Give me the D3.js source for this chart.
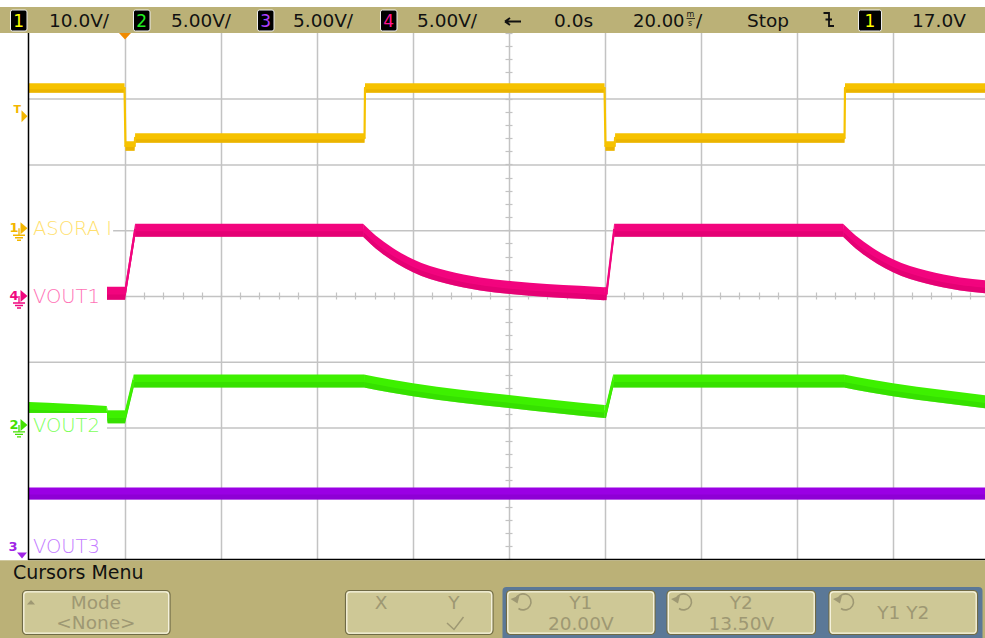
<!DOCTYPE html>
<html><head><meta charset="utf-8">
<script src="https://cdn.jsdelivr.net/npm/d3@7"></script>
<style>
html,body{margin:0;padding:0;background:#fff;overflow:hidden}
svg{display:block;font-family:"DejaVu Sans","Liberation Sans",Arial,sans-serif}
</style></head><body>
<svg id="c" width="985" height="638"></svg>
<script>
// ---------------- data ----------------
const channelIds    = [1, 2, 3, 4];
const channelNames  = ["ASORA I", "VOUT2", "VOUT3", "VOUT1"];
const voltsPerDiv   = [10.0, 5.00, 5.00, 5.00];
const groundDiv     = [1.03, -1.96, -4.4, 0.0];
const scaleLabels   = ["10.0V/", "5.00V/", "5.00V/", "5.00V/"];
const timePerDivMs  = 20;
const delayLabel    = "0.0s";
const runState      = "Stop";
const triggerSource = 1;
const triggerLevelV = 17.0;
const triggerTimeMs = 20;
const cursorLabels  = ["Y1", "Y2", "Y1 Y2"];
const cursorValues  = ["20.00V", "13.50V", ""];

// Channel 1 (ASORA I)
const ch1TimeMs = [0, 19.9, 20.1, 22.0, 22.1, 69.9, 70.0, 119.9, 120.1, 122.0, 122.1, 169.9, 170.0, 200];
const ch1Volts  = [21.3, 21.3, 12.5, 12.5, 13.7, 13.7, 21.3, 21.3, 12.5, 12.5, 13.7, 13.7, 21.3, 21.3];
// Channel 2 (VOUT2)
const ch2TimeMs = [0, 8, 16.2, 16.4, 20.0, 21.8, 69.8, 75.0, 80.0, 90.0, 100.0, 110.0, 119.9, 120.2, 121.7, 169.8, 175.0, 180.0, 190.0, 200.0];
const ch2Volts  = [1.25, 1.12, 0.95, 0.62, 0.62, 3.34, 3.34, 2.98, 2.68, 2.18, 1.78, 1.38, 1.02, 1.02, 3.34, 3.34, 2.98, 2.68, 2.18, 1.72];
// Channel 3 (VOUT3)
const ch3TimeMs = [0, 200];
const ch3Volts  = [7.0, 7.0];
// Channel 4 (VOUT1)
const ch4TimeMs = [0, 16.2, 20.0, 22.1, 69.6, 73.1, 76.7, 80.0, 87.1, 94.0, 100.8, 107.9, 114.8, 119.8, 120.3, 121.9, 169.6, 173.1, 176.7, 180.0, 187.1, 194.0, 200];
const ch4Volts  = [0.2, 0.2, 0.2, 5.0, 5.0, 3.85, 2.95, 2.3, 1.42, 0.92, 0.62, 0.42, 0.28, 0.18, 0.18, 5.0, 5.0, 3.85, 2.95, 2.3, 1.42, 0.92, 0.68];

// ---------------- styles ----------------
const W = 985, H = 638;
const barColor = "#bbb177";
const traceColor = {1:"#f6c200", 2:"#3ef000", 3:"#9a00e4", 4:"#f2047e"};
const traceDark  = {1:"#e2aa00", 2:"#2fd400", 3:"#8500c8", 4:"#d9006c"};
const labelColor = {1:"#ffdf6e", 2:"#7dff5a", 3:"#c47cff", 4:"#ff72b6"};
const markColor  = {1:"#f3b600", 2:"#44e000", 3:"#a024e6", 4:"#f0087f"};
const hdrDigit   = {1:"#ffff00", 2:"#22ee22", 3:"#b040ff", 4:"#ff1493"};
const bandPx     = {1:9.5, 2:13, 3:12, 4:13};

const plot = {left:29, top:32.8, right:989, bottom:559.2};
const x = d3.scaleLinear().domain([0, 10*timePerDivMs]).range([plot.left, plot.right]);
const yDiv = d3.scaleLinear().domain([-4, 4]).range([plot.bottom, plot.top]);
const yOf = (id, v) => yDiv(groundDiv[id-1] + v / voltsPerDiv[id-1]);

const svg = d3.select("#c");
svg.append("rect").attr("width", W).attr("height", H).attr("fill", "#fff");

// ---------------- grid ----------------
const gridCol = "#c3c3c3";
const gx = svg.append("g").attr("transform", `translate(0,${plot.top})`)
  .call(d3.axisTop(x).tickValues(d3.range(timePerDivMs, 10*timePerDivMs, timePerDivMs))
        .tickSize(-(plot.bottom - plot.top)).tickFormat(""));
gx.select(".domain").remove();
gx.selectAll("line").attr("stroke", gridCol).attr("stroke-width", 1.5);

const gy = svg.append("g").attr("transform", `translate(${plot.left},0)`)
  .call(d3.axisLeft(yDiv).tickValues(d3.range(-3, 4, 1))
        .tickSize(-(plot.right - plot.left)).tickFormat(""));
gy.select(".domain").remove();
gy.selectAll("line").attr("stroke", gridCol).attr("stroke-width", 1.5);

// minor ticks on centre lines
const yc = yDiv(0), xc = x(5*timePerDivMs);
const minor = svg.append("g").attr("stroke", gridCol).attr("stroke-width", 1.2);
minor.selectAll("line.mx").data(d3.range(0, 10*timePerDivMs + 0.01, timePerDivMs/5)).join("line")
  .attr("x1", d => Math.round(x(d)) + 0.5).attr("x2", d => Math.round(x(d)) + 0.5)
  .attr("y1", yc - 3.5).attr("y2", yc + 3.5);
minor.selectAll("line.my").data(d3.range(-4, 4.01, 0.2)).join("line")
  .attr("y1", d => Math.round(yDiv(d)) + 0.5).attr("y2", d => Math.round(yDiv(d)) + 0.5)
  .attr("x1", xc - 3.5).attr("x2", xc + 3.5);

// ---------------- traces ----------------
svg.append("clipPath").attr("id", "pc").append("rect")
  .attr("x", plot.left).attr("y", plot.top).attr("width", W - plot.left).attr("height", plot.bottom - plot.top);
const traces = svg.append("g").attr("clip-path", "url(#pc)");
const series = [
  {id:1, t:ch1TimeMs, v:ch1Volts},
  {id:2, t:ch2TimeMs, v:ch2Volts},
  {id:3, t:ch3TimeMs, v:ch3Volts},
  {id:4, t:ch4TimeMs, v:ch4Volts}
];
// split a trace at its corners (flat <-> slope, steps) so each piece is smoothed on its own
function pieces(pts) {
  const out = []; let cur = [pts[0]];
  for (let i = 1; i < pts.length; i++) {
    cur.push(pts[i]);
    if (i < pts.length - 1) {
      const s0 = (pts[i].v - pts[i-1].v) / (pts[i].t - pts[i-1].t);
      const s1 = (pts[i+1].v - pts[i].v) / (pts[i+1].t - pts[i].t);
      const flat0 = Math.abs(s0) < 1e-3, flat1 = Math.abs(s1) < 1e-3;
      const corner = flat0 !== flat1 || Math.sign(s0) !== Math.sign(s1) ||
                     Math.abs(s0) > 4 * Math.abs(s1) + 0.2 || Math.abs(s1) > 4 * Math.abs(s0) + 0.2;
      if (corner) { out.push(cur); cur = [pts[i]]; }
    }
  }
  out.push(cur);
  return out;
}
series.forEach(s => {
  const pts = s.t.map((t, k) => ({t, v: s.v[k]}));
  const h = bandPx[s.id];
  const cv = d3.curveMonotoneX;
  const full = d3.area().curve(cv).x(d => x(d.t)).y0(d => yOf(s.id, d.v) - h/2).y1(d => yOf(s.id, d.v) + h/2);
  const low  = d3.area().curve(cv).x(d => x(d.t)).y0(d => yOf(s.id, d.v) + 0.5).y1(d => yOf(s.id, d.v) + h/2);
  const line = d3.line().curve(cv).x(d => x(d.t)).y(d => yOf(s.id, d.v));
  const segs = pieces(pts);
  segs.forEach(p => traces.append("path").attr("d", full(p)).attr("fill", traceColor[s.id]));
  segs.forEach(p => traces.append("path").attr("d", low(p)).attr("fill", traceDark[s.id]).attr("opacity", 0.55));
  segs.forEach(p => traces.append("path").attr("d", line(p)).attr("fill", "none")
    .attr("stroke", traceColor[s.id]).attr("stroke-width", 2.2).attr("stroke-linecap", "round"));
});

// ---------------- channel labels (opaque boxes) ----------------
const labels = svg.append("g");
channelIds.forEach(id => {
  let g = yOf(id, 0);
  const cy = Math.min(g, plot.bottom - 13);
  const grp = labels.append("g");
  const box = grp.append("rect").attr("fill", "#fff");
  const txt = grp.append("text").attr("x", 33).attr("y", cy + 7)
    .attr("font-size", 19.5).attr("font-weight", 200).attr("fill", labelColor[id])
    .text(channelNames[id-1]);
  const bb = txt.node().getBBox();
  const end = Math.max(107, bb.x + bb.width + 1);
  box.attr("x", plot.left).attr("y", cy - 12).attr("width", end - plot.left).attr("height", 24);
});

// borders
svg.append("line").attr("x1", plot.left - 0.5).attr("x2", plot.left - 0.5).attr("y1", 33).attr("y2", 560)
  .attr("stroke", "#000").attr("stroke-width", 1.5);
svg.append("line").attr("x1", plot.left - 1).attr("x2", W).attr("y1", 559.5).attr("y2", 559.5)
  .attr("stroke", "#000").attr("stroke-width", 1.5);

// ---------------- ground / trigger markers ----------------
const marks = svg.append("g");
channelIds.forEach(id => {
  const g = yOf(id, 0);
  const col = markColor[id];
  if (g > plot.bottom) {
    marks.append("text").attr("x", 8.5).attr("y", 551).attr("font-size", 13).attr("font-weight", "bold")
      .attr("fill", col).text(id);
    marks.append("path").attr("d", `M17,552.5 L27,552.5 L22,558.5 Z`).attr("fill", col);
  } else {
    marks.append("text").attr("x", 9.5).attr("y", g + 4).attr("font-size", 13).attr("font-weight", "bold")
      .attr("fill", col).text(id);
    marks.append("path").attr("d", `M20.5,${g-6} L27.5,${g} L20.5,${g+6} Z`).attr("fill", col);
    marks.append("path").attr("fill", "none").attr("stroke", col).attr("stroke-width", 1.3)
      .attr("d", `M19,${g} V${g+7} M13,${g+7} H25 M15,${g+9.5} H23 M17,${g+12} H21`);
  }
});
const ty = yOf(triggerSource, triggerLevelV);
marks.append("text").attr("x", 13.5).attr("y", ty - 3).attr("font-size", 11).attr("font-weight", "bold")
  .attr("fill", markColor[1]).text("T");
marks.append("path").attr("d", `M21.5,${ty-6} L27.5,${ty} L21.5,${ty+6} Z`).attr("fill", markColor[1]);

// ---------------- header bar ----------------
const hdr = svg.append("g");
hdr.append("rect").attr("x", 0).attr("y", 7).attr("width", W).attr("height", 26).attr("fill", barColor);
const boxX = [10, 133, 257, 380], valX = [49, 171, 293, 417];
channelIds.forEach((id, i) => {
  hdr.append("rect").attr("x", boxX[i] + 0.5).attr("y", 10).attr("width", 16.5).attr("height", 21).attr("rx", 2)
    .attr("fill", "#000").attr("stroke", "#eee").attr("stroke-width", 1);
  hdr.append("text").attr("x", boxX[i] + 8.75).attr("y", 27).attr("text-anchor", "middle")
    .attr("font-size", 17).attr("fill", hdrDigit[id]).text(id);
  hdr.append("text").attr("x", valX[i]).attr("y", 26.5).attr("font-size", 18.5).attr("fill", "#111")
    .text(scaleLabels[i]);
});
// delay arrow
hdr.append("path").attr("d", "M505,21.5 H521 M505,21.5 L510,18 M505,21.5 L510,25")
  .attr("stroke", "#111").attr("stroke-width", 2).attr("fill", "none");
hdr.append("text").attr("x", 554).attr("y", 26.5).attr("font-size", 18.5).attr("fill", "#111").text(delayLabel);
hdr.append("text").attr("x", 633).attr("y", 26.5).attr("font-size", 18).attr("fill", "#111")
  .text(timePerDivMs.toFixed(2));
hdr.append("text").attr("x", 686.5).attr("y", 17).attr("font-size", 8).attr("fill", "#111").text("m");
hdr.append("line").attr("x1", 686.5).attr("x2", 695).attr("y1", 18.5).attr("y2", 18.5).attr("stroke", "#111").attr("stroke-width", 0.8);
hdr.append("text").attr("x", 688).attr("y", 25.5).attr("font-size", 8).attr("fill", "#111").text("s");
hdr.append("text").attr("x", 696).attr("y", 26.5).attr("font-size", 18.5).attr("fill", "#111").text("/");
hdr.append("text").attr("x", 747).attr("y", 26.5).attr("font-size", 18.5).attr("fill", "#111").text(runState);
// falling-edge trigger icon
hdr.append("path").attr("d", "M823.5,13 H829 V26 H834 M825.5,19.5 L832,19.5")
  .attr("stroke", "#111").attr("stroke-width", 1.8).attr("fill", "none");
hdr.append("rect").attr("x", 858.5).attr("y", 10).attr("width", 23).attr("height", 21).attr("rx", 2)
  .attr("fill", "#000").attr("stroke", "#eee").attr("stroke-width", 1);
hdr.append("text").attr("x", 870).attr("y", 27).attr("text-anchor", "middle").attr("font-size", 17)
  .attr("fill", hdrDigit[triggerSource]).text(triggerSource);
hdr.append("text").attr("x", 912).attr("y", 26.5).attr("font-size", 18.5).attr("fill", "#111")
  .text(triggerLevelV.toFixed(1) + "V");
// trigger position marker
const tx = x(triggerTimeMs);
hdr.append("path").attr("d", `M${tx-6},33 L${tx+6},33 L${tx},39.5 Z`).attr("fill", "#f08a00");

// ---------------- bottom softkey menu ----------------
const bot = svg.append("g");
bot.append("rect").attr("x", 0).attr("y", 560.3).attr("width", W).attr("height", H - 560).attr("fill", barColor);
bot.append("text").attr("x", 13).attr("y", 579).attr("font-size", 19).attr("fill", "#111").text("Cursors Menu");
bot.append("rect").attr("x", 502.5).attr("y", 587).attr("width", 480).attr("height", 60).attr("rx", 4)
  .attr("fill", "#5b7897");
const btnFill = "#cec896", txtCol = "#9e9873";
function button(x0, x1) {
  bot.append("rect").attr("x", x0).attr("y", 590.5).attr("width", x1 - x0).attr("height", 44).attr("rx", 4)
    .attr("fill", btnFill).attr("stroke", "#6f6a46").attr("stroke-width", 1.2);
  bot.append("rect").attr("x", x0 + 1.3).attr("y", 591.8).attr("width", x1 - x0 - 2.6).attr("height", 41.4).attr("rx", 3.5)
    .attr("fill", "none").attr("stroke", "#f6f3df").attr("stroke-width", 1.3);
}
function btnText(cx, y, s, fs) {
  bot.append("text").attr("x", cx).attr("y", y).attr("text-anchor", "middle")
    .attr("font-size", fs || 18.5).attr("fill", txtCol).text(s);
}
function rotIcon(x0) {
  const cx = x0 + 16, cy = 602;
  bot.append("path").attr("fill", "none").attr("stroke", txtCol).attr("stroke-width", 1.6)
    .attr("d", `M${cx-7},${cy-3} A8,8 0 1,1 ${cx-4},${cy+6.5}`);
  bot.append("path").attr("fill", txtCol).attr("d", `M${cx-12},${cy-3} L${cx-3},${cy-6.5} L${cx-5},${cy+1.5} Z`);
}
// Mode
button(22.5, 170);
bot.append("path").attr("d", "M27,604.5 L35,604.5 L31,600 Z").attr("fill", txtCol);
btnText(96, 609, "Mode");
btnText(96, 629, "<None>");
// X Y
button(345.5, 493);
btnText(381, 609, "X");
btnText(454, 609, "Y");
bot.append("path").attr("d", "M447,623 L454,629.5 L463.5,617").attr("fill", "none").attr("stroke", txtCol).attr("stroke-width", 1.5);
// Y1, Y2, Y1 Y2
const cBtnX = [[506.5, 655], [667, 815.5], [829, 977.5]];
cBtnX.forEach((b, i) => {
  button(b[0], b[1]);
  rotIcon(b[0]);
  const cx = (b[0] + b[1]) / 2;
  if (cursorValues[i]) {
    btnText(cx, 608.5, cursorLabels[i]);
    btnText(cx, 630, cursorValues[i]);
  } else {
    btnText(cx, 619, cursorLabels[i]);
  }
});
</script>
</body></html>
